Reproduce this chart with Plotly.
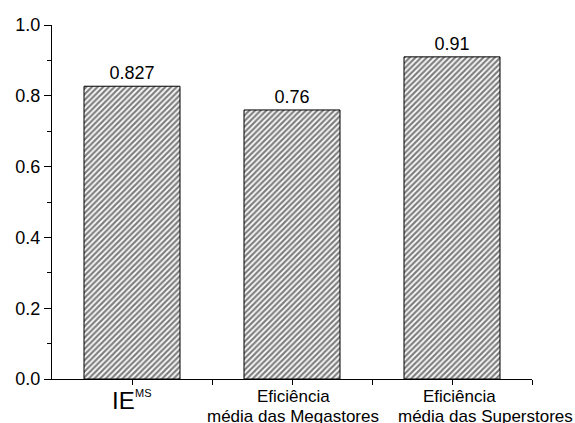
import plotly.graph_objects as go

categories = ["IE<br>MS",
              "Eficiência<br>média das Megastores",
              "Eficiência<br>média das Superstores"]
values = [0.827, 0.76, 0.91]
value_labels = ["0.827", "0.76", "0.91"]
x_pos = [0, 1, 2]
y_ticks = [0.0, 0.2, 0.4, 0.6, 0.8, 1.0]
y_ticktext = ["0.0", "0.2", "0.4", "0.6", "0.8", "1.0"]

font_family = "Liberation Sans, Arial, sans-serif"

fig = go.Figure()
fig.add_trace(go.Bar(
    x=x_pos, y=values, width=0.6,
    text=value_labels, textposition="outside",
    textfont=dict(family=font_family, size=18, color="black"),
    cliponaxis=False,
    marker=dict(color="white",
                line=dict(color="black", width=1),
                pattern=dict(shape="/", size=4, solidity=0.55,
                             fgcolor="black", bgcolor="white")),
))

# category labels drawn piece by piece as annotations for precise placement
# (xshift, yshift, font size) per piece, in pixels
piece_styles = [
    [(-9, -21, 24), (11, -14, 11)],          # "IE" with superscript "MS"
    [(1, -17, 17), (1, -37, 17)],
    [(7, -17, 17), (33, -37, 17)],
]
for xv, txt, styles in zip(x_pos, categories, piece_styles):
    for piece, (xs, ys, fs) in zip(txt.split("<br>"), styles):
        fig.add_annotation(x=xv, xref="x", y=0, yref="paper", yanchor="middle",
                           xshift=xs, yshift=ys, text=piece, showarrow=False,
                           borderpad=0,
                           font=dict(family=font_family, size=fs, color="black"))

fig.update_layout(
    width=575, height=423,
    margin=dict(l=52, r=43, t=25, b=44, autoexpand=False),
    paper_bgcolor="white", plot_bgcolor="white",
    showlegend=False,
    font=dict(family=font_family, color="black"),
)
fig.update_xaxes(
    range=[-0.5, 2.5], tickmode="array", tickvals=x_pos, showticklabels=False,
    showline=True, linecolor="black", linewidth=1,
    ticks="outside", ticklen=5, tickcolor="black",
    automargin=False,
    showgrid=False, zeroline=False,
    minor=dict(tickmode="array", tickvals=[0.5, 1.5, 2.5], ticks="outside", ticklen=5, tickcolor="black"),
)
fig.update_yaxes(
    range=[0, 1.0], tickmode="array", tickvals=y_ticks, ticktext=y_ticktext,
    showline=True, linecolor="black", linewidth=1,
    ticks="outside", ticklen=7, tickcolor="black",
    tickfont=dict(size=18, family=font_family),
    automargin=False,
    showgrid=False, zeroline=False,
    minor=dict(tickmode="array", tickvals=[0.1, 0.3, 0.5, 0.7, 0.9], ticks="outside", ticklen=4, tickcolor="black"),
)

fig.write_html("out.html", config={"displayModeBar": False},
               post_script="document.body.style.margin='0';document.body.style.overflow='hidden';")
